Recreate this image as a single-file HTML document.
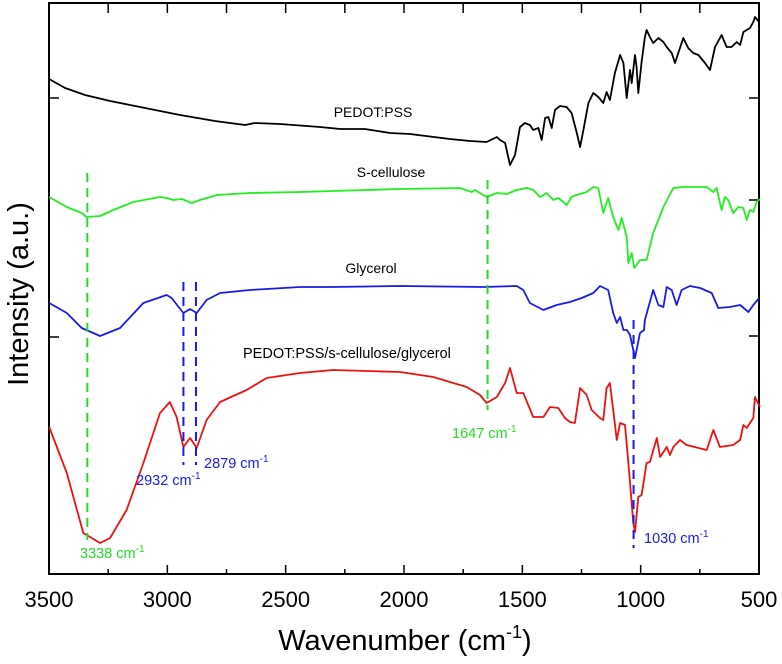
<!DOCTYPE html>
<html><head><meta charset="utf-8">
<style>
html,body{margin:0;padding:0;background:#fff;}
svg{display:block;font-family:"Liberation Sans",Arial,sans-serif;}
</style></head>
<body>
<svg id="chart" width="782" height="664" viewBox="0 0 782 664">
<rect x="49" y="3" width="710" height="571" fill="none" stroke="#000" stroke-width="2"/>
<g id="ticks"></g>
<g id="series"></g>
<g id="annot"></g>
<text x="405" y="650" font-size="29" text-anchor="middle">Wavenumber (cm<tspan font-size="18" dy="-12">-1</tspan><tspan dy="12">)</tspan></text>
<text transform="translate(28,294) rotate(-90)" font-size="29" text-anchor="middle">Intensity (a.u.)</text>
<text x="373" y="117" font-size="14" text-anchor="middle">PEDOT:PSS</text>
<text x="391" y="177" font-size="14" text-anchor="middle">S-cellulose</text>
<text x="371" y="273" font-size="14" text-anchor="middle">Glycerol</text>
<text x="243" y="358" font-size="14.5">PEDOT:PSS/s-cellulose/glycerol</text>
</svg>
<script>
const xTicks=[3500,3000,2500,2000,1500,1000,500];
const xMinor=[3250,2750,2250,1750,1250,750];
const wnBlack=[3500,3432,3348,3242,3115,2946,2799,2672,2630,2524,2355,2270,2165,2059,1975,1806,1721,1651,1608,1594,1573,1552,1531,1510,1489,1468,1454,1432,1418,1404,1390,1376,1362,1341,1313,1292,1270,1256,1242,1221,1200,1179,1158,1144,1130,1109,1087,1073,1059,1045,1038,1024,1017,1010,996,982,975,961,947,925,904,890,869,855,841,820,799,778,756,728,707,686,658,637,616,594,580,566,538,524,517,499];
const intBlack=[495,486,479,473,467,459,453,449,451,450,447,445,445,441,440,435,433,432,437,434,431,409,419,447,451,449,444,446,434,456,457,446,464,468,467,461,441,427,444,471,481,477,471,482,474,501,519,511,476,504,491,519,507,481,512,537,544,537,531,536,532,527,521,511,521,536,526,521,519,511,504,527,539,527,527,532,529,542,546,552,557,552];
const wnGreen=[3499,3425,3362,3341,3284,3228,3144,3031,3003,2975,2939,2897,2862,2791,2651,2439,2299,2017,1763,1714,1700,1651,1608,1566,1524,1482,1454,1425,1397,1369,1348,1327,1313,1292,1271,1228,1200,1179,1158,1137,1116,1094,1080,1059,1052,1038,1027,1003,975,947,904,862,820,749,721,693,679,658,644,630,609,587,566,552,538,524,510,496];
const intGreen=[377,367,361,357,358,364,372,377,376,374,375,371,374,379,381,382,383,385,386,382,384,377,381,380,384,386,384,377,381,374,376,372,369,377,379,382,387,386,361,376,357,344,356,337,311,321,306,314,314,341,367,386,387,387,387,382,386,364,377,374,361,367,366,354,364,362,372,375];
const wnBlue=[3499,3425,3362,3284,3200,3101,3003,2982,2932,2904,2876,2834,2777,2651,2439,2299,2017,1665,1524,1496,1468,1411,1355,1299,1249,1200,1172,1137,1116,1101,1087,1073,1058,1045,1024,1003,986,982,947,925,904,890,869,848,827,792,749,700,672,623,580,545,524,499];
const intBlue=[271,261,246,238,246,271,279,276,261,265,261,274,281,284,287,287,288,287,288,284,271,264,269,272,276,281,288,284,261,251,257,244,244,239,216,241,244,254,284,269,267,287,284,269,284,288,286,281,266,267,269,262,269,276];
const wnRed=[3499,3425,3355,3284,3242,3172,3101,3031,2989,2961,2932,2904,2876,2834,2777,2665,2580,2439,2299,2158,2017,1876,1735,1679,1651,1608,1573,1552,1524,1496,1454,1411,1383,1348,1320,1299,1278,1256,1228,1207,1172,1158,1144,1130,1116,1101,1087,1066,1052,1031,1024,1010,996,975,961,932,918,890,876,862,834,806,721,693,665,609,580,566,552,524,517,496];
const intRed=[147,101,41,31,36,64,111,161,172,157,127,136,126,154,172,184,196,201,204,203,202,197,187,179,171,177,191,206,181,181,157,157,167,166,156,152,151,186,179,164,156,154,186,191,164,134,151,149,111,51,42,77,79,111,112,136,117,127,119,127,134,129,124,144,127,129,134,149,146,156,177,167];
const seriesList=[["pedot-pss",wnBlack,intBlack,"#000"],["s-cellulose",wnGreen,intGreen,"#22ee22"],["glycerol",wnBlue,intBlue,"#1a1aee"],["composite",wnRed,intRed,"#ee1111"]];
const markWn=[3338,1647,2932,2879,1030];
const markTop=[173,180,282,282,320];
const markBot=[540,410,465,465,548];
const markColor=["#22dd22","#22dd22","#1a1aee","#1a1aee","#1a1aee"];

const X0=49,X1=759,Y0=574,Y1=3;
function xs(w){return X0+(3500-w)/3000*(X1-X0);}
function ys(v){return Y0-v/571*(Y0-Y1);}
const NS="http://www.w3.org/2000/svg";
const tg=document.getElementById('ticks');
function line(g,x1,y1,x2,y2,c,w,d){const l=document.createElementNS(NS,'line');l.setAttribute('x1',x1);l.setAttribute('y1',y1);l.setAttribute('x2',x2);l.setAttribute('y2',y2);l.setAttribute('stroke',c);l.setAttribute('stroke-width',w);if(d)l.setAttribute('stroke-dasharray',d);g.appendChild(l);return l;}
xTicks.forEach(t=>{const x=xs(t);
 const a=line(tg,x,Y0,x,Y0-9,'#000',1.5);
 
 
 const b=line(tg,x,Y1,x,Y1+10,'#000',1.5);
 
 
 const tx=document.createElementNS(NS,'text');tx.setAttribute('x',x);tx.setAttribute('y',607);tx.setAttribute('font-size','22');tx.setAttribute('text-anchor','middle');tx.textContent=t;
 
 
 tg.appendChild(tx);});
xMinor.forEach(t=>{const x=xs(t);
 const a=line(tg,x,Y0,x,Y0-5,'#000',1.5);
 
 
 const b=line(tg,x,Y1,x,Y1+10,'#000',1.5);
 
 });
[98,337].forEach(y=>{const a=line(tg,X0,y,X0+10,y,'#000',1.5);
 
 });
[98,200,336].forEach(y=>{const a=line(tg,X1,y,X1-10,y,'#000',1.5);
 
 });

const ag=document.getElementById('annot');
markWn.forEach((w,i)=>{const l=line(ag,xs(w),markTop[i],xs(w),markBot[i],markColor[i],2,'9,6');
 
 });

const sg=document.getElementById('series');
seriesList.forEach(s=>{const [nm,wn,iv,c]=s;
 const p=document.createElementNS(NS,'path');
 p.setAttribute('d',wn.map((w,i)=>(i?'L':'M')+xs(w).toFixed(1)+','+ys(iv[i]).toFixed(1)).join(''));
 p.setAttribute('fill','none');p.setAttribute('stroke',c);p.setAttribute('stroke-width','1.8');p.setAttribute('stroke-linejoin','round');
 
 
 sg.appendChild(p);});

const lbls=[["3338",80,558,"#22dd22"],["2932",136,485,"#1a1aee"],["2879",204,468,"#1a1aee"],["1647",452,438,"#22dd22"],["1030",644,543,"#1a1aee"]];
lbls.forEach(L=>{const t=document.createElementNS(NS,'text');t.setAttribute('x',L[1]);t.setAttribute('y',L[2]);t.setAttribute('font-size','14.5');t.setAttribute('fill',L[3]);
 t.innerHTML=L[0]+' cm<tspan font-size="10" dy="-6">-1</tspan>';
 
 
 ag.appendChild(t);});
</script>
</body></html>
